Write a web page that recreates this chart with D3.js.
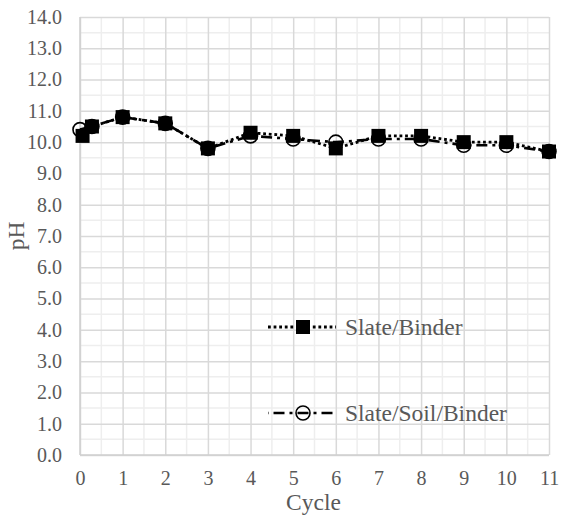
<!DOCTYPE html>
<html>
<head>
<meta charset="utf-8">
<script src="https://cdn.jsdelivr.net/npm/d3@7/dist/d3.min.js"></script>
<style>
  html, body { margin: 0; padding: 0; background: #ffffff; }
  svg { display: block; }
  svg text { font-family: "Liberation Serif", "Times New Roman", Times, "DejaVu Serif", serif !important; fill: #595959; }
</style>
</head>
<body>
<svg id="chart" width="562" height="525"></svg>
<script>
// pH measured after each wetting/drying cycle
const seriesNames = ["Slate/Binder", "Slate/Soil/Binder"];
const slateBinderCycle = [0.06, 0.28, 1, 2, 3, 4, 5, 6, 7, 8, 9, 10, 11];
const slateBinderPH    = [10.2, 10.5, 10.8, 10.6, 9.8, 10.3, 10.2, 9.8, 10.2, 10.2, 10.0, 10.0, 9.7];
const slateSoilCycle   = [0, 0.28, 1, 2, 3, 4, 5, 6, 7, 8, 9, 10, 11];
const slateSoilPH      = [10.4, 10.5, 10.8, 10.6, 9.8, 10.2, 10.1, 10.0, 10.1, 10.1, 9.9, 9.9, 9.7];
const xTicks = [0, 1, 2, 3, 4, 5, 6, 7, 8, 9, 10, 11];
const yTicks = [0, 1, 2, 3, 4, 5, 6, 7, 8, 9, 10, 11, 12, 13, 14];
const xTitle = "Cycle";
const yTitle = "pH";

const FONT = "'Liberation Serif', 'Times New Roman', Times, 'DejaVu Serif', serif";

const svg = d3.select("#chart");
const x = d3.scaleLinear().domain([0, 11]).range([80, 549]);
const y = d3.scaleLinear().domain([0, 14]).range([455, 17]);

// minor grid at half units
const minorX = d3.range(0.5, 11, 1);
const minorY = d3.range(0.5, 14, 1);
const grid = svg.append("g");
grid.selectAll("line.mx").data(minorX).join("line")
  .attr("x1", d => x(d)).attr("x2", d => x(d))
  .attr("y1", y(0)).attr("y2", y(14))
  .attr("stroke", "#eeeeee").attr("stroke-width", 1.5);
grid.selectAll("line.my").data(minorY).join("line")
  .attr("y1", d => y(d)).attr("y2", d => y(d))
  .attr("x1", x(0)).attr("x2", x(11))
  .attr("stroke", "#eeeeee").attr("stroke-width", 1.5);

// major grid via axes
const yAxis = svg.append("g").attr("transform", `translate(${x(0)},0)`)
  .call(d3.axisLeft(y).tickValues(yTicks).tickSize(-(x(11) - x(0))).tickFormat(d3.format(".1f")).tickPadding(18));
yAxis.attr("font-family", FONT);
yAxis.select(".domain").remove();
yAxis.selectAll(".tick line").attr("stroke", "#d9d9d9").attr("stroke-width", 1.5);
yAxis.selectAll(".tick text").attr("font-size", "20px").attr("fill", "#595959")
  .attr("font-family", FONT);

const xAxis = svg.append("g").attr("transform", `translate(0,${y(0)})`)
  .call(d3.axisBottom(x).tickValues(xTicks).tickSize(-(y(0) - y(14))).tickFormat(d3.format("d")).tickPadding(16));
xAxis.attr("font-family", FONT);
xAxis.select(".domain").remove();
xAxis.selectAll(".tick line").attr("stroke", "#d9d9d9").attr("stroke-width", 1.5);
xAxis.selectAll(".tick text").attr("font-size", "20px").attr("fill", "#595959")
  .attr("font-family", FONT);

// outer axis lines
svg.append("line").attr("x1", x(0)).attr("x2", x(11)).attr("y1", y(0)).attr("y2", y(0))
  .attr("stroke", "#cfcfcf").attr("stroke-width", 1.5);
svg.append("line").attr("x1", x(0)).attr("x2", x(0)).attr("y1", y(0)).attr("y2", y(14))
  .attr("stroke", "#cfcfcf").attr("stroke-width", 1.5);

// axis titles
svg.append("text").attr("x", (x(0) + x(11)) / 2 - 1).attr("y", 510)
  .attr("text-anchor", "middle").attr("font-size", "23.5px").attr("font-family", FONT).text(xTitle);
svg.append("text").attr("transform", `translate(24,${(y(0) + y(14)) / 2}) rotate(-90)`)
  .attr("text-anchor", "middle").attr("font-size", "23.5px").attr("font-family", FONT).text(yTitle);

const lineGen = d3.line().x(d => x(d[0])).y(d => y(d[1]));
const soilData = slateSoilCycle.map((c, i) => [c, slateSoilPH[i]]);
const binderData = slateBinderCycle.map((c, i) => [c, slateBinderPH[i]]);

const styles = {
  dot: { dash: "2.8 2.8", width: 2.8, offset: 0 },
  dashDot: { dash: "11 5 3 5", width: 2.6, offset: 18.5 }
};

// Slate/Soil/Binder: dash-dot line with open circles (drawn underneath)
svg.append("path").datum(soilData).attr("d", lineGen)
  .attr("fill", "none").attr("stroke", "#000").attr("stroke-width", styles.dashDot.width)
  .attr("stroke-dasharray", styles.dashDot.dash);
svg.append("g").selectAll("circle").data(soilData).join("circle")
  .attr("cx", d => x(d[0])).attr("cy", d => y(d[1])).attr("r", 7)
  .attr("fill", "none").attr("stroke", "#000").attr("stroke-width", 1.6);

// Slate/Binder: round-dot line with filled squares
svg.append("path").datum(binderData).attr("d", lineGen)
  .attr("fill", "none").attr("stroke", "#000").attr("stroke-width", styles.dot.width)
  .attr("stroke-dasharray", styles.dot.dash);
svg.append("g").selectAll("rect").data(binderData).join("rect")
  .attr("x", d => x(d[0]) - 7).attr("y", d => y(d[1]) - 7)
  .attr("width", 14).attr("height", 14).attr("fill", "#000");

// legend
const legend = svg.append("g");
const legendRows = [
  { name: seriesNames[0], yPos: 327, style: styles.dot, marker: "square" },
  { name: seriesNames[1], yPos: 413, style: styles.dashDot, marker: "circle" }
];
legendRows.forEach(r => {
  legend.append("line").attr("x1", 268).attr("x2", 336).attr("y1", r.yPos).attr("y2", r.yPos)
    .attr("stroke", "#000").attr("stroke-width", r.style.width)
    .attr("stroke-dasharray", r.style.dash).attr("stroke-dashoffset", r.style.offset);
  if (r.marker === "square") {
    legend.append("rect").attr("x", 296).attr("y", r.yPos - 7).attr("width", 14).attr("height", 14).attr("fill", "#000");
  } else {
    legend.append("circle").attr("cx", 303).attr("cy", r.yPos).attr("r", 7)
      .attr("fill", "none").attr("stroke", "#000").attr("stroke-width", 1.6);
  }
  legend.append("text").attr("x", 345).attr("y", r.yPos).attr("dy", "0.34em")
    .attr("font-size", "23.5px").attr("font-family", FONT).text(r.name);
});
</script>
</body>
</html>
